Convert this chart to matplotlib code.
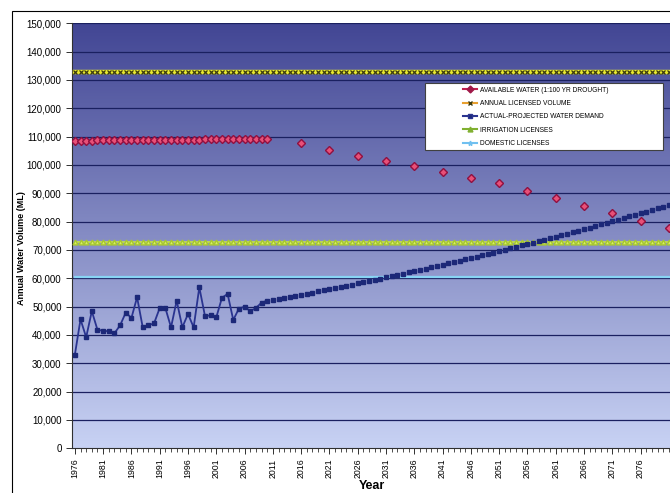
import numpy as np
import matplotlib
matplotlib.use("Agg")
import matplotlib.pyplot as plt
from matplotlib.patches import Rectangle
from matplotlib.ticker import FuncFormatter, MultipleLocator

plt.rcParams['font.family'] = ['Liberation Sans', 'DejaVu Sans']

# Actual water demand (ML), 1976-2010
actual_years = list(range(1976, 2011))
actual_demand = [33000, 45500, 39200, 48400, 41800, 41500, 41300, 40600, 43400, 47900,
                 46000, 53300, 42700, 43400, 44100, 49500, 49500, 42700, 52100, 42700,
                 47400, 42700, 56800, 46700, 46900, 46200, 53100, 54500, 45300, 49300,
                 50000, 48400, 49500, 51400, 52100]

# Projected water demand (ML), 2011-2081
proj_years = list(range(2011, 2082))
proj_demand = [52300, 52670, 53040, 53420, 53800, 54190, 54570, 54960, 55350, 55750,
               56150, 56550, 56960, 57370, 57780, 58190, 58610, 59030, 59450, 59880,
               60310, 60740, 61180, 61620, 62060, 62510, 62960, 63410, 63870, 64330,
               64790, 65260, 65730, 66200, 66670, 67150, 67630, 68110, 68600, 69090,
               69590, 70080, 70580, 71090, 71590, 72100, 72620, 73130, 73650, 74170,
               74700, 75230, 75760, 76300, 76840, 77380, 77920, 78470, 79020, 79570,
               80130, 80690, 81250, 81820, 82390, 82960, 83540, 84120, 84700, 85280,
               85870]

# Available water (1:100 yr drought)
avail_years = list(range(1976, 2011))
avail_water = [108600, 108600, 108600, 108600, 108700, 108700, 108700, 108700, 108700, 108700,
               108800, 108800, 108800, 108800, 108800, 108800, 108800, 108900, 108900, 108900,
               108900, 108900, 108900, 109000, 109000, 109000, 109000, 109000, 109000, 109100,
               109100, 109100, 109100, 109200, 109200]
avail_future_years = [2016, 2021, 2026, 2031, 2036, 2041, 2046, 2051, 2056, 2061, 2066,
                      2071, 2076, 2081]
avail_future = [107700, 105300, 103300, 101400, 99500, 97400, 95400, 93700, 90800, 88400,
                85500, 83000, 80300, 77800]

all_years = list(range(1976, 2082))
licensed_volume = 132800
irrigation_licenses = 72700
domestic_licenses = 60400

fig = plt.figure(figsize=(6.7, 4.93), dpi=100)
ax = fig.add_axes([0.1075, 0.0907, 0.895, 0.862])

# gradient plot background
top = np.array([66, 70, 148]) / 255
bottom = np.array([200, 210, 244]) / 255
t = np.linspace(0, 1, 256)[:, None]
grad = (top * (1 - t) + bottom * t)[:, None, :]
grad = np.repeat(grad, 2, axis=1)
ax.imshow(grad, extent=[0, 1, 0, 1], transform=ax.transAxes, aspect='auto', zorder=0)

for v in range(10000, 150001, 10000):
    ax.axhline(v, color='#1a2060', lw=0.9, zorder=1)

n = len(all_years)
ax.plot(all_years, [licensed_volume] * n, color='#e8e830', lw=3.2, zorder=3)
ax.plot(all_years, [licensed_volume] * n, ls='none', marker='x', ms=3, mew=0.9,
        color='#3a3a10', zorder=4)
ax.plot(all_years, [irrigation_licenses] * n, color='#c8e448', lw=1.2, marker='^', ms=3.5,
        mfc='#d8f060', mec='#a8c830', zorder=3)
ax.plot(all_years, [domestic_licenses] * n, color='#88d4f4', lw=1.6, zorder=3)

ax.plot(avail_years, avail_water, color='#c02050', lw=1, marker='D', ms=4.2,
        mfc='#e85078', mec='#901040', mew=1, zorder=5)
ax.plot(avail_future_years, avail_future, ls='none', marker='D', ms=4.5,
        mfc='#e85078', mec='#901040', mew=1, zorder=5)

ax.plot(actual_years, actual_demand, color='#2a3490', lw=1.3, marker='s', ms=3.2,
        mfc='#1c2878', mec='#1c2878', zorder=6)
ax.plot(proj_years, proj_demand, ls='none', marker='s', ms=3.2,
        mfc='#1c2878', mec='#1c2878', zorder=6)

ax.set_xlim(1975.5, 2081.5)
ax.set_ylim(0, 150000)
ax.yaxis.set_major_locator(MultipleLocator(10000))
ax.yaxis.set_major_formatter(FuncFormatter(lambda v, p: f"{int(v):,}"))
ax.set_xticks(list(range(1976, 2077, 5)))
ax.set_xticks(all_years, minor=True)
ax.tick_params(axis='x', which='major', labelrotation=90, labelsize=6.3, length=4,
               width=0.7, color='#303030')
ax.tick_params(axis='x', which='minor', length=3, width=0.6, color='#303030')
ax.tick_params(axis='y', labelsize=7, length=4, width=0.7, color='#303030')
for s in ['top', 'right']:
    ax.spines[s].set_visible(False)
ax.spines['left'].set_color('#303030')
ax.spines['bottom'].set_color('#303030')
ax.set_xlabel('Year', fontsize=9, fontweight='bold', labelpad=1)
ax.set_ylabel('Annual Water Volume (ML)', fontsize=6.5, fontweight='bold')
ax.yaxis.set_label_coords(-0.076, 0.47)

# legend box
ax.add_patch(Rectangle((0.588, 0.702), 0.397, 0.158, transform=ax.transAxes,
                       facecolor='white', edgecolor='#404040', lw=0.8, zorder=9))
handles = [
    plt.Line2D([], [], color='#c02050', marker='D', ms=3.5, mfc='#a01848', mec='#a01848'),
    plt.Line2D([], [], color='#e8a030', marker='x', ms=3.5, mec='#3a3a10'),
    plt.Line2D([], [], color='#2a3490', marker='s', ms=3, mfc='#1c2878'),
    plt.Line2D([], [], color='#80b030', marker='^', ms=3.5, mfc='#80b030'),
    plt.Line2D([], [], color='#70c0f0', marker='*', ms=3.5, mfc='#70c0f0'),
]
labels = ['AVAILABLE WATER (1:100 YR DROUGHT)', 'ANNUAL LICENSED VOLUME',
          'ACTUAL-PROJECTED WATER DEMAND', 'IRRIGATION LICENSES', 'DOMESTIC LICENSES']
leg = ax.legend(handles, labels, loc='upper left', bbox_to_anchor=(0.645, 0.86),
                frameon=False, fontsize=4.8, handlelength=2.2, handletextpad=0.4,
                labelspacing=0.95, borderaxespad=0.2)
leg.set_zorder(10)

# outer chart frame
fig.patches.append(Rectangle((0.018, -0.02), 1.0, 0.998, transform=fig.transFigure,
                             fill=False, edgecolor='black', lw=0.8))

fig.savefig('out.png', dpi=100)
